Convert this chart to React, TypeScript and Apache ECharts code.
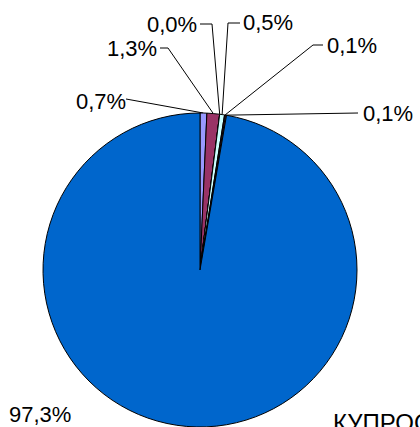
import React, { useEffect, useRef } from "react";
import * as echarts from "echarts";

const categories = ["A", "B", "C", "D", "E", "F", "G"];
const values = [0.7, 1.3, 0.0, 0.5, 0.1, 0.1, 97.3];
const colors = ["#9999FF", "#993366", "#FFFFCC", "#CCFFFF", "#660066", "#FF8080", "#0066CC"];
const footerText = "КУПРОС";

// label anchor (left x, middle y) and the elbow points of each leader line
const labelAnchors: number[][] = [
  [76, 101],
  [107, 48],
  [147, 24],
  [243, 22],
  [327, 45],
  [363, 113],
  [9, 414],
];
const leaderPoints: number[][][] = [
  [[126, 99]],
  [[160, 48], [168, 48]],
  [[200, 24], [212, 24]],
  [[240, 23], [228, 23]],
  [[323, 45], [313, 45]],
  [[358, 113]],
  [],
];

const FONT = "'Liberation Sans', Arial, sans-serif";
const fmt = (v: number) => v.toFixed(1).replace(".", ",") + "%";

export default function App() {
  const ref = useRef<HTMLDivElement>(null);
  useEffect(() => {
    if (!ref.current) return;
    const chart = echarts.init(ref.current, null, { renderer: "svg" });
    chart.setOption({
      animation: false,
      backgroundColor: "#ffffff",
      graphic: [
        {
          type: "text",
          left: 333,
          top: 410,
          style: {
            text: footerText,
            fontFamily: FONT,
            fontSize: 24,
            fill: "#000",
          },
        },
      ],
      series: [
        {
          type: "pie",
          center: [200, 270],
          radius: 157,
          startAngle: 90,
          clockwise: true,
          avoidLabelOverlap: false,
          itemStyle: { borderColor: "#000", borderWidth: 1 },
          label: {
            show: true,
            formatter: (p: any) => fmt(p.value),
            fontFamily: FONT,
            fontSize: 22,
            color: "#000",
          },
          labelLine: { show: true, lineStyle: { color: "#000", width: 1 } },
          emphasis: { disabled: true },
          data: categories.map((c, i) => ({
            name: c,
            value: values[i],
            itemStyle: { color: colors[i] },
            labelLine: { show: leaderPoints[i].length > 0 },
          })),
          labelLayout: (params: any) => {
            const i = params.dataIndex;
            const a = labelAnchors[i];
            const out: any = { x: a[0], y: a[1], align: "left", verticalAlign: "middle" };
            if (leaderPoints[i].length > 0 && params.labelLinePoints) {
              const edge = params.labelLinePoints[0];
              const pts = leaderPoints[i];
              const p1 = pts[pts.length - 1];
              const p0 = pts[0];
              out.labelLinePoints = [edge, p1, p0];
            }
            return out;
          },
        },
      ],
    });
    return () => chart.dispose();
  }, []);
  return (
    <div
      ref={ref}
      style={{ position: "absolute", left: 0, top: 0, width: 420, height: 427 }}
    />
  );
}
